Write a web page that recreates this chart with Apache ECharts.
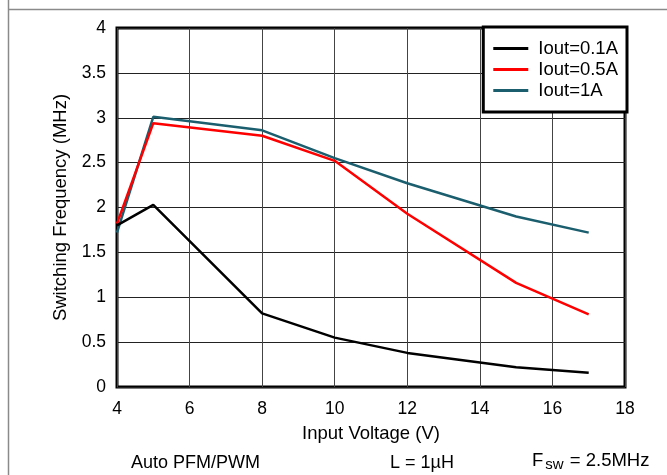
<!DOCTYPE html>
<html>
<head>
<meta charset="utf-8">
<script src="https://cdn.jsdelivr.net/npm/echarts@6/dist/echarts.min.js"></script>
<style>
html,body{margin:0;padding:0;background:#fff;}
#chart{width:667px;height:475px;}
</style>
</head>
<body>
<div id="chart"></div>
<script>
var inputVoltage = [4, 5, 8, 10, 12, 15, 17];
var iout01 = [1.80, 2.03, 0.82, 0.55, 0.38, 0.22, 0.16];
var iout05 = [1.82, 2.94, 2.80, 2.52, 1.93, 1.16, 0.81];
var iout1  = [1.72, 3.01, 2.86, 2.55, 2.27, 1.90, 1.72];
var seriesNames = ['Iout=0.1A', 'Iout=0.5A', 'Iout=1A'];
var seriesColors = ['#000000', '#ff0000', '#1b5e6e'];
var xTicks = [4, 6, 8, 10, 12, 14, 16, 18];
var yTicks = [0, 0.5, 1, 1.5, 2, 2.5, 3, 3.5, 4];

function pairs(ys){ return inputVoltage.map(function(x,i){ return [x, ys[i]]; }); }
var allData = [iout01, iout05, iout1];
var FONT = '"Liberation Sans", Arial, Helvetica, sans-serif';

var chart = echarts.init(document.getElementById('chart'), null, {renderer:'canvas'});
chart.setOption({
  animation: false,
  backgroundColor: '#ffffff',
  textStyle: {fontFamily: FONT, color: '#000'},
  grid: {left: 117, right: 42, top: 28, bottom: 88, show: true, borderColor: '#000', borderWidth: 3, backgroundColor: 'transparent'},
  xAxis: {
    type: 'value', min: xTicks[0], max: xTicks[xTicks.length-1], interval: 2,
    name: 'Input Voltage (V)', nameLocation: 'middle', nameGap: 37,
    nameTextStyle: {fontSize: 18.5, color: '#000', fontFamily: FONT},
    axisLine: {show: false}, axisTick: {show: false},
    axisLabel: {fontSize: 17.5, color: '#000', margin: 13, fontFamily: FONT},
    splitLine: {show: true, lineStyle: {color: '#444', width: 1}}
  },
  yAxis: {
    type: 'value', min: yTicks[0], max: yTicks[yTicks.length-1], interval: 0.5,
    name: 'Switching Frequency (MHz)', nameLocation: 'middle', nameGap: 47,
    nameTextStyle: {fontSize: 18.5, color: '#000', fontFamily: FONT},
    axisLine: {show: false}, axisTick: {show: false},
    axisLabel: {fontSize: 17.5, color: '#000', margin: 11, fontFamily: FONT},
    splitLine: {show: true, lineStyle: {color: '#222', width: 1}}
  },
  legend: {
    right: 40, top: 27, orient: 'vertical',
    data: seriesNames,
    icon: 'rect', itemWidth: 35, itemHeight: 3, itemGap: 2,
    padding: [12, 9, 12, 10],
    backgroundColor: '#fff', borderColor: '#000', borderWidth: 3, borderRadius: 0,
    textStyle: {fontSize: 18.5, color: '#000', fontFamily: FONT, padding: [0, 0, 0, 5]}
  },
  series: seriesNames.map(function(n, i){
    return {
      name: n, type: 'line', data: pairs(allData[i]),
      showSymbol: false, symbol: 'none',
      lineStyle: {color: seriesColors[i], width: 2.5},
      itemStyle: {color: seriesColors[i]},
      z: 3 + (2 - i)
    };
  }),
  graphic: [
    {type: 'line', shape: {x1: 8.5, y1: 0, x2: 8.5, y2: 475}, style: {stroke: '#8a8a8a', lineWidth: 1.5}},
    {type: 'line', shape: {x1: 8, y1: 9.5, x2: 667, y2: 9.5}, style: {stroke: '#8a8a8a', lineWidth: 1.5}},
    {type: 'text', left: 131, top: 454, style: {text: 'Auto PFM/PWM', font: '18px ' + FONT, fill: '#000'}},
    {type: 'text', left: 390, top: 454, style: {text: 'L = 1µH', font: '18px ' + FONT, fill: '#000'}},
    {type: 'text', left: 532, top: 451, style: {
      text: '{a|F}{s|sw}{a| = 2.5MHz}',
      rich: {a: {fontSize: 18.5, fontFamily: FONT, color: '#000'},
             s: {fontSize: 15, fontFamily: FONT, color: '#000', verticalAlign: 'bottom', padding: [9, 1, 0, 2]}}
    }}
  ]
});
</script>
</body>
</html>
